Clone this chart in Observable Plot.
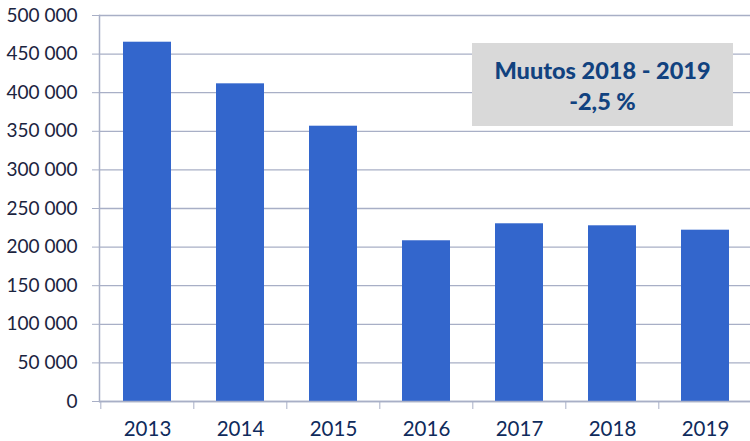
<!DOCTYPE html>
<html>
<head>
<meta charset="utf-8">
<script src="https://cdn.jsdelivr.net/npm/d3@7"></script>
<script src="https://cdn.jsdelivr.net/npm/@observablehq/plot@0.6"></script>
<style>
  html, body { margin: 0; padding: 0; background: #fff; }
  #wrap { position: relative; width: 750px; height: 441px; overflow: hidden; }
  #note {
    position: absolute; left: 472px; top: 43px; width: 261px; height: 83px;
    background: #d9d9d9; color: #11427f; font-family: Lato, sans-serif; font-weight: 900;
    font-size: 23.5px; text-align: center; box-sizing: border-box; padding-top: 12px; line-height: 31px;
  }
</style>
</head>
<body>
<div id="wrap"><div id="note"><div>Muutos 2018 - 2019</div><div>-2,5 %</div></div></div>
<script>
const years = ["2013", "2014", "2015", "2016", "2017", "2018", "2019"];
const values = [465400, 411500, 356600, 208200, 230200, 227600, 221900];
const yTicks = [0, 50000, 100000, 150000, 200000, 250000, 300000, 350000, 400000, 450000, 500000];

const data = years.map((y, i) => ({year: y, value: values[i]}));
const x0 = 99, x1 = 752.5;
const step = (x1 - x0) / years.length;
const gridColor = "#a8afc6";
const fmt = d => d3.format(",")(d).replace(/,/g, " ");

const chart = Plot.plot({
  width: 750,
  height: 441,
  marginTop: 15,
  marginBottom: 40,
  marginLeft: 99,
  marginRight: 0,
  style: {fontFamily: "Lato, sans-serif", overflow: "hidden"},
  x: {type: "band", domain: years, range: [x0, x1], paddingInner: 0.48, paddingOuter: 0.24},
  y: {domain: [0, 500000]},
  marks: [
    Plot.gridY(yTicks, {stroke: gridColor, strokeOpacity: 1, strokeWidth: 1.3}),
    Plot.barY(data, {x: "year", y: "value", fill: "#3366cc"}),
    Plot.ruleY([0], {stroke: gridColor, strokeWidth: 1.5}),
    Plot.frame({anchor: "left", stroke: gridColor, strokeWidth: 1.5}),
    Plot.axisY(yTicks, {tickFormat: fmt, tickSize: 7, tickPadding: 15, stroke: gridColor, fontSize: 19, fill: "#1b2440", label: null}),
    Plot.axisX({tickSize: 8, text: null, dx: -step / 2, stroke: gridColor, label: null}),
    Plot.axisX({tickSize: 0, tickPadding: 20, fontSize: 20.5, fill: "#0f2b5c", label: null})
  ]
});
document.getElementById("wrap").prepend(chart);
chart.style.position = "absolute";
chart.style.left = "0";
chart.style.top = "0";
</script>
</body>
</html>
